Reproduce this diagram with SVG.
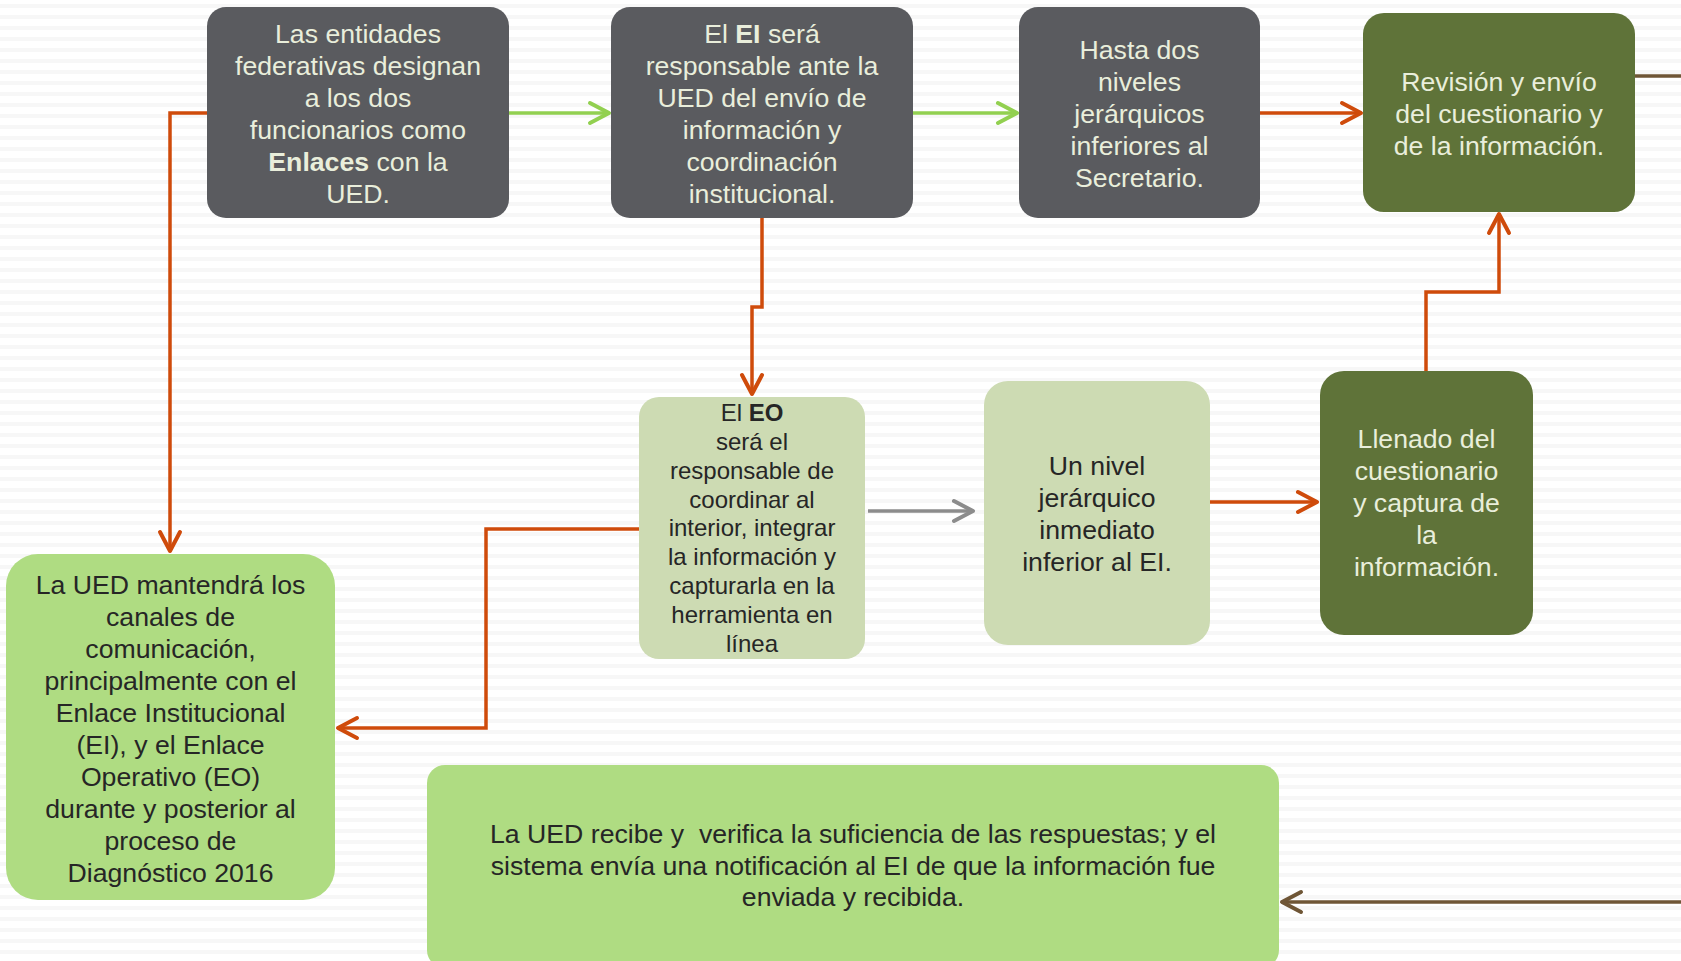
<svg xmlns="http://www.w3.org/2000/svg" width="1681" height="961" viewBox="0 0 1681 961">
<defs>
<pattern id="stripes" x="0" y="0" width="20" height="11" patternUnits="userSpaceOnUse">
<rect x="0" y="0" width="20" height="11" fill="#ffffff"/>
<rect x="0" y="4" width="20" height="4" fill="#f7f7f7"/>
</pattern>
<marker id="mOr" viewBox="-24 -14 28 28" refX="0" refY="0" markerWidth="28" markerHeight="28" markerUnits="userSpaceOnUse" orient="auto"><path d="M-19,-10 L0,0 L-19,10" fill="none" stroke="#cf4b0b" stroke-width="4" stroke-linecap="round" stroke-linejoin="round"/></marker>
<marker id="mGr" viewBox="-24 -14 28 28" refX="0" refY="0" markerWidth="28" markerHeight="28" markerUnits="userSpaceOnUse" orient="auto"><path d="M-19,-10 L0,0 L-19,10" fill="none" stroke="#92d050" stroke-width="4" stroke-linecap="round" stroke-linejoin="round"/></marker>
<marker id="mGy" viewBox="-24 -14 28 28" refX="0" refY="0" markerWidth="28" markerHeight="28" markerUnits="userSpaceOnUse" orient="auto"><path d="M-19,-10 L0,0 L-19,10" fill="none" stroke="#8c8c8c" stroke-width="4" stroke-linecap="round" stroke-linejoin="round"/></marker>
<marker id="mBr" viewBox="-24 -14 28 28" refX="0" refY="0" markerWidth="28" markerHeight="28" markerUnits="userSpaceOnUse" orient="auto"><path d="M-19,-10 L0,0 L-19,10" fill="none" stroke="#6f5636" stroke-width="4" stroke-linecap="round" stroke-linejoin="round"/></marker>
</defs>
<style>
text{font-family:"Liberation Sans",Arial,sans-serif;text-anchor:middle;font-size:26.67px}
.lt{fill:#e9eedb}
.dk{fill:#262626}
.sm{font-size:24px}
.b{font-weight:bold}
.gray{fill:#5a5b5f}
.olive{fill:#5f7339}
.sage{fill:#cddbb3}
.lime{fill:#afdc82}
.c{fill:none;stroke-width:3.5;stroke-linejoin:miter}
.or{stroke:#cf4b0b}
.gr{stroke:#92d050}
.gy{stroke:#8c8c8c}
.br{stroke:#6f5636}
</style>
<rect x="0" y="0" width="1681" height="961" fill="url(#stripes)"/>

<g id="connectors">
<path class="c gr" d="M509,113 L609,113" marker-end="url(#mGr)"/>
<path class="c gr" d="M913,113 L1017,113" marker-end="url(#mGr)"/>
<path class="c or" d="M1260,113 L1361,113" marker-end="url(#mOr)"/>
<path class="c or" d="M207,113 L170,113 L170,551" marker-end="url(#mOr)"/>
<path class="c or" d="M762,218 L762,307 L752,307 L752,394" marker-end="url(#mOr)"/>
<path class="c or" d="M639,529 L486,529 L486,728 L338,728" marker-end="url(#mOr)"/>
<path class="c gy" d="M868,511 L973,511" marker-end="url(#mGy)"/>
<path class="c or" d="M1210,502 L1317,502" marker-end="url(#mOr)"/>
<path class="c or" d="M1426,371 L1426,292 L1499,292 L1499,214" marker-end="url(#mOr)"/>
<path class="c br" d="M1634,76 L1685,76"/>
<path class="c br" d="M1685,902 L1282,902" marker-end="url(#mBr)"/>
</g>

<g id="n1">
<rect class="gray" x="207" y="7" width="302" height="211" rx="19"/>
<text class="lt"><tspan x="358" y="42.5">Las entidades</tspan><tspan x="358" y="74.5">federativas designan</tspan><tspan x="358" y="106.5">a los dos</tspan><tspan x="358" y="138.5">funcionarios como</tspan><tspan x="358" y="170.5"><tspan class="b">Enlaces</tspan> con la</tspan><tspan x="358" y="202.5">UED.</tspan></text>
</g>

<g id="n2">
<rect class="gray" x="611" y="7" width="302" height="211" rx="19"/>
<text class="lt"><tspan x="762" y="42.5">El <tspan class="b">EI</tspan> será</tspan><tspan x="762" y="74.5">responsable ante la</tspan><tspan x="762" y="106.5">UED del envío de</tspan><tspan x="762" y="138.5">información y</tspan><tspan x="762" y="170.5">coordinación</tspan><tspan x="762" y="202.5">institucional.</tspan></text>
</g>

<g id="n3">
<rect class="gray" x="1019" y="7" width="241" height="211" rx="19"/>
<text class="lt"><tspan x="1139.5" y="59">Hasta dos</tspan><tspan x="1139.5" y="91">niveles</tspan><tspan x="1139.5" y="123">jerárquicos</tspan><tspan x="1139.5" y="155">inferiores al</tspan><tspan x="1139.5" y="187">Secretario.</tspan></text>
</g>

<g id="n4">
<rect class="olive" x="1363" y="13" width="272" height="199" rx="21"/>
<text class="lt"><tspan x="1499" y="91">Revisión y envío</tspan><tspan x="1499" y="123">del cuestionario y</tspan><tspan x="1499" y="155">de la información.</tspan></text>
</g>

<g id="n5">
<rect class="sage" x="639" y="397" width="226" height="262" rx="20"/>
<text class="dk sm"><tspan x="752" y="421"><tspan>El </tspan><tspan class="b">EO</tspan></tspan><tspan x="752" y="450">será el</tspan><tspan x="752" y="478.5">responsable de</tspan><tspan x="752" y="507.5">coordinar al</tspan><tspan x="752" y="536">interior, integrar</tspan><tspan x="752" y="565">la información y</tspan><tspan x="752" y="594">capturarla en la</tspan><tspan x="752" y="622.5">herramienta en</tspan><tspan x="752" y="651.5">línea</tspan></text>
</g>

<g id="n6">
<rect class="sage" x="984" y="381" width="226" height="264" rx="24"/>
<text class="dk"><tspan x="1097" y="475">Un nivel</tspan><tspan x="1097" y="507">jerárquico</tspan><tspan x="1097" y="539">inmediato</tspan><tspan x="1097" y="571">inferior al EI.</tspan></text>
</g>

<g id="n7">
<rect class="olive" x="1320" y="371" width="213" height="264" rx="24"/>
<text class="lt"><tspan x="1426.5" y="448">Llenado del</tspan><tspan x="1426.5" y="480">cuestionario</tspan><tspan x="1426.5" y="512">y captura de</tspan><tspan x="1426.5" y="544">la</tspan><tspan x="1426.5" y="576">información.</tspan></text>
</g>

<g id="n8">
<rect class="lime" x="6" y="554" width="329" height="346" rx="32"/>
<text class="dk"><tspan x="170.5" y="594">La UED mantendrá los</tspan><tspan x="170.5" y="626">canales de</tspan><tspan x="170.5" y="658">comunicación,</tspan><tspan x="170.5" y="690">principalmente con el</tspan><tspan x="170.5" y="722">Enlace Institucional</tspan><tspan x="170.5" y="754">(EI), y el Enlace</tspan><tspan x="170.5" y="786">Operativo (EO)</tspan><tspan x="170.5" y="818">durante y posterior al</tspan><tspan x="170.5" y="850">proceso de</tspan><tspan x="170.5" y="882">Diagnóstico 2016</tspan></text>
</g>

<g id="n9">
<rect class="lime" x="427" y="765" width="852" height="203" rx="18"/>
<text class="dk" xml:space="preserve"><tspan x="853" y="843">La UED recibe y  verifica la suficiencia de las respuestas; y el</tspan><tspan x="853" y="874.5">sistema envía una notificación al EI de que la información fue</tspan><tspan x="853" y="906">enviada y recibida.</tspan></text>
</g>
</svg>
